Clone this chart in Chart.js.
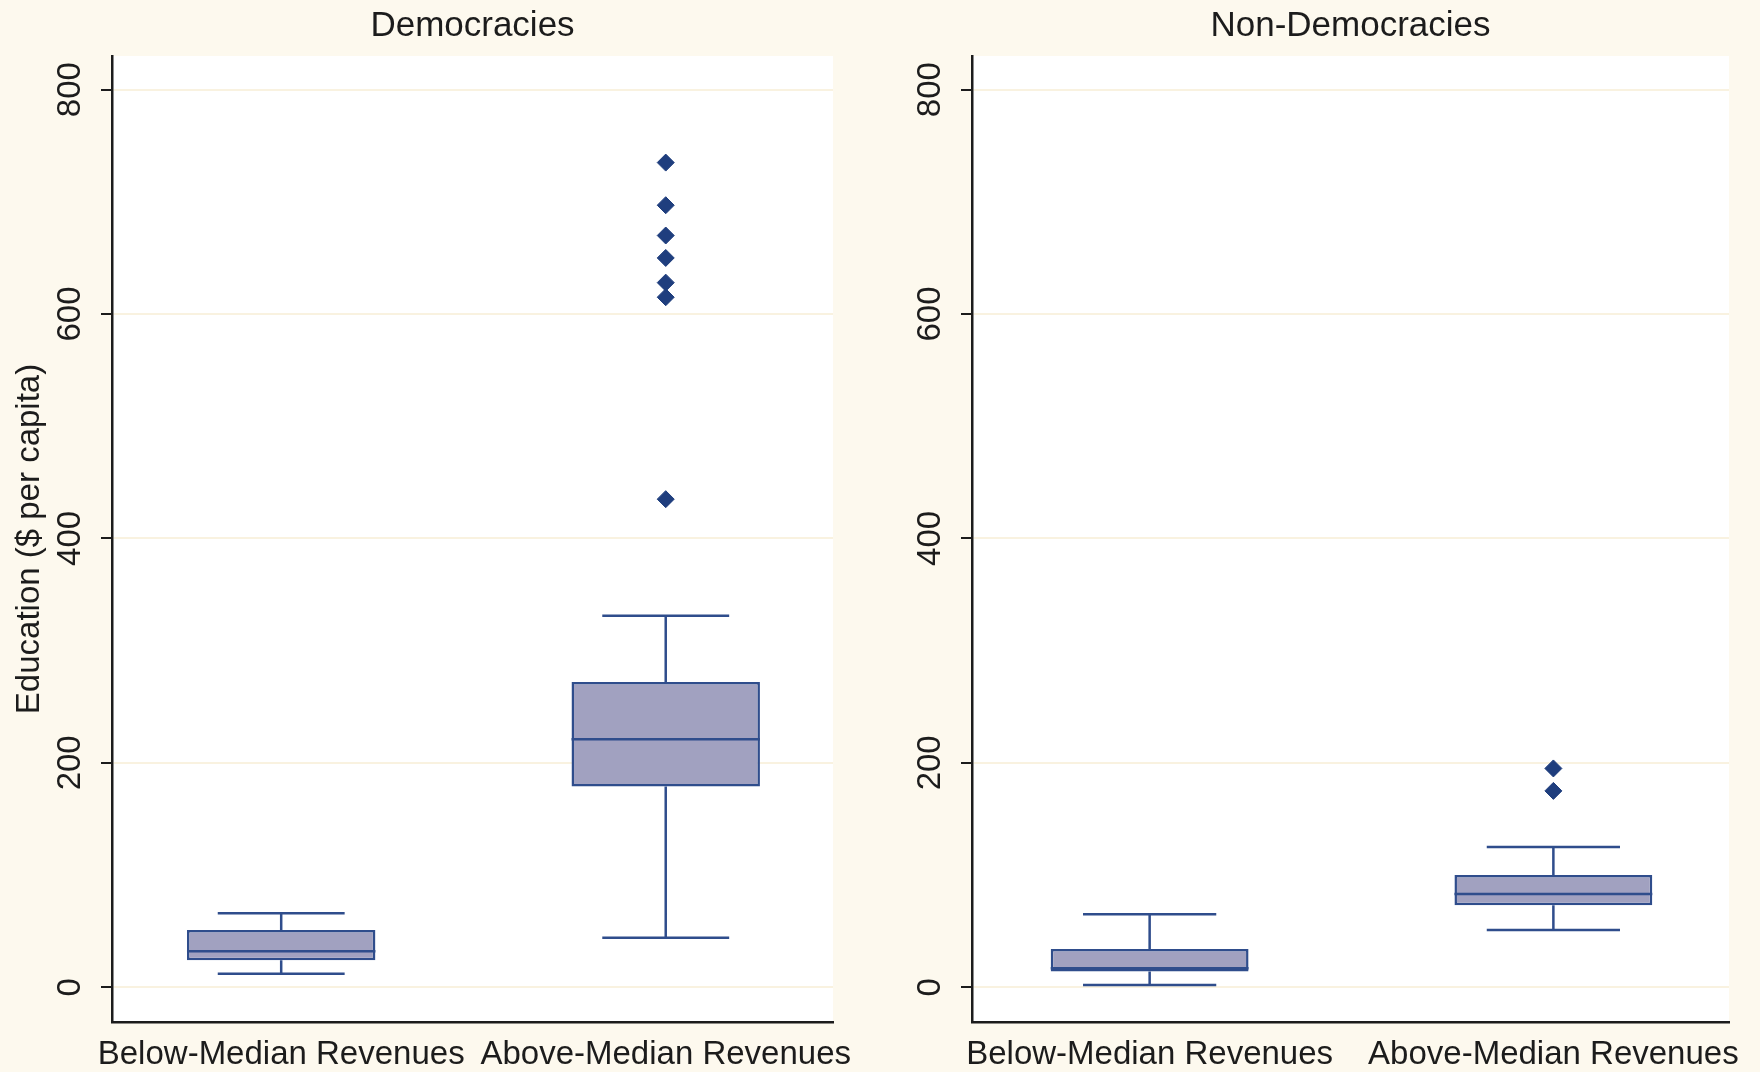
<!DOCTYPE html>
<html lang="en">
<head>
  <meta charset="UTF-8">
  <title>Education spending by revenue level</title>
  <style>
    body {
      margin: 0;
      padding: 0;
      background: #fdf9ee;
      font-family: 'Liberation Sans', Arial, sans-serif;
    }
    .panels {
      position: relative;
      width: 1760px;
      height: 1072px;
    }
    .panels canvas {
      position: absolute;
      top: 0;
    }
    #demChart { left: 0; }
    #nonChart { left: 880px; }
  </style>
</head>
<body>
  <div class="panels">
    <canvas id="demChart" width="880" height="1072"></canvas>
    <canvas id="nonChart" width="880" height="1072"></canvas>
  </div>

  <script src="https://cdn.jsdelivr.net/npm/chart.js"></script>
  <script>
    const categories = ['Below-Median Revenues', 'Above-Median Revenues'];
    const panelTitles = ['Democracies', 'Non-Democracies'];
    const yTitle = 'Education ($ per capita)';
    const yTicks = [0, 200, 400, 600, 800];

    // [lower whisker, q1, median, q3, upper whisker] per category
    const demBoxes = [[12, 24, 32, 51, 66], [44, 179, 221, 272, 331]];
    const demOutliers = [[], [435, 615, 628, 650, 670, 697, 735]];
    const nonBoxes = [[2, 14, 17, 34, 65], [51, 73, 83, 100, 125]];
    const nonOutliers = [[], [175, 195]];

    const LINE = '#2f4d8c';
    const FILL = '#a1a1c0';
    const DOT = '#1f3e7e';
    const INK = '#1c1c1c';
    const BOX_W = 0.49;   // box width in category units
    const CAP_W = 0.33;   // whisker cap width

    Chart.defaults.font.family = "'Liberation Sans', Arial, sans-serif";
    Chart.defaults.color = INK;

    const plotBg = {
      id: 'plotBg',
      beforeDraw(chart) {
        const { ctx, chartArea: a } = chart;
        ctx.save();
        ctx.fillStyle = '#ffffff';
        ctx.fillRect(a.left, a.top, a.right - a.left, a.bottom - a.top);
        ctx.restore();
      }
    };

    // whiskers, caps and median as broken line segments
    function boxLines(boxes) {
      const pts = [];
      boxes.forEach((b, i) => {
        const [lo, q1, med, q3, hi] = b;
        pts.push({ x: i - CAP_W / 2, y: lo }, { x: i + CAP_W / 2, y: lo }, { x: i, y: null });
        pts.push({ x: i, y: lo }, { x: i, y: q1 }, { x: i, y: null });
        pts.push({ x: i, y: q3 }, { x: i, y: hi }, { x: i, y: null });
        pts.push({ x: i - CAP_W / 2, y: hi }, { x: i + CAP_W / 2, y: hi }, { x: i, y: null });
        pts.push({ x: i - BOX_W / 2, y: med }, { x: i + BOX_W / 2, y: med }, { x: i, y: null });
      });
      return pts;
    }

    function outlierPoints(outliers) {
      const pts = [];
      outliers.forEach((list, i) => list.forEach(v => pts.push({ x: i, y: v })));
      return pts;
    }

    function makePanel(id, title, boxes, outliers, withYTitle, axisWidth, padRight) {
      new Chart(document.getElementById(id), {
        type: 'bar',
        data: {
          datasets: [
            {
              type: 'scatter',
              order: 1,
              data: outlierPoints(outliers),
              pointStyle: 'rectRot',
              pointRadius: 8.5,
              backgroundColor: DOT,
              borderColor: DOT,
              borderWidth: 1
            },
            {
              type: 'line',
              order: 2,
              data: boxLines(boxes),
              borderColor: LINE,
              borderWidth: 2.5,
              pointRadius: 0,
              spanGaps: false,
              fill: false
            },
            {
              type: 'bar',
              order: 3,
              data: boxes.map((b, i) => ({ x: i, y: [b[1], b[3]] })),
              backgroundColor: FILL,
              borderColor: LINE,
              borderWidth: 2.5,
              borderSkipped: false,
              categoryPercentage: 1,
              barPercentage: BOX_W
            }
          ]
        },
        options: {
          responsive: false,
          animation: false,
          layout: { padding: { left: 0, right: padRight, top: 0, bottom: 0 } },
          plugins: {
            legend: { display: false },
            tooltip: { enabled: false },
            title: {
              display: true,
              text: title,
              fullSize: false,
              color: INK,
              font: { size: 35, weight: 'normal' },
              padding: { top: 5, bottom: 9 }
            }
          },
          scales: {
            x: {
              type: 'linear',
              offset: false,
              min: -0.44,
              max: 1.435,
              afterBuildTicks: s => { s.ticks = categories.map((c, i) => ({ value: i })); },
              afterFit: s => { s.height = 50; },
              grid: { display: false, drawTicks: false },
              border: { display: true, color: INK, width: 2.5 },
              ticks: {
                callback: v => categories[v],
                font: { size: 33 },
                color: INK,
                padding: 13,
                maxRotation: 0,
                autoSkip: false
              }
            },
            y: {
              type: 'linear',
              min: -31,
              max: 830,
              afterBuildTicks: s => { s.ticks = yTicks.map(v => ({ value: v })); },
              afterFit: s => { s.width = axisWidth; },
              grid: {
                color: '#f9f2e0',
                lineWidth: 2,
                drawTicks: true,
                tickLength: 11,
                tickColor: INK,
                tickWidth: 2
              },
              border: { display: true, color: INK, width: 2.5 },
              ticks: {
                font: { size: 33 },
                color: INK,
                minRotation: 90,
                maxRotation: 90,
                crossAlign: 'center',
                padding: 3
              },
              title: {
                display: withYTitle,
                text: yTitle,
                color: INK,
                font: { size: 33 },
                padding: { top: 10, bottom: 0 }
              }
            }
          }
        },
        plugins: [plotBg]
      });
    }

    makePanel('demChart', panelTitles[0], demBoxes, demOutliers, true, 112, 47);
    makePanel('nonChart', panelTitles[1], nonBoxes, nonOutliers, false, 92, 31);
  </script>
</body>
</html>
